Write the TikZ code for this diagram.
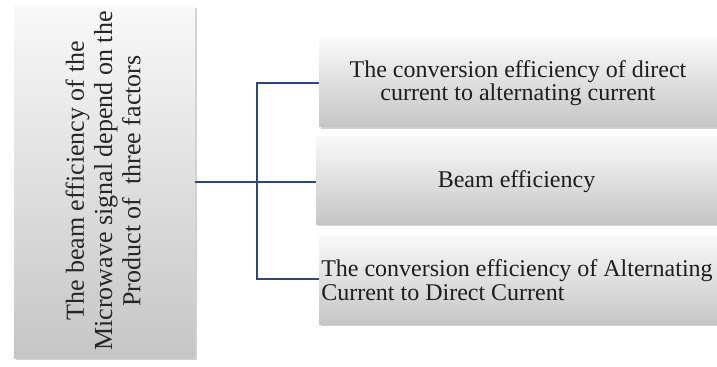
\documentclass[tikz,border=0pt]{standalone}
\usepackage{fontspec}
\setmainfont{Liberation Serif}
\usetikzlibrary{shadows}
\definecolor{linkc}{HTML}{2A4878}
\definecolor{txtc}{HTML}{1E1E1E}
\tikzset{
  gbox/.style={draw=none, top color=gray!5, bottom color=gray!45,
    drop shadow={shadow xshift=1.2pt, shadow yshift=-1.5pt, opacity=0.3, fill=black!60}},
  link/.style={draw=linkc, line width=1.4pt},
  lbl/.style={font=\fontsize{18}{17.5}\selectfont, text=txtc, align=center}
}
\begin{document}
\begin{tikzpicture}[x=0.75pt,y=-0.75pt]
\useasboundingbox (0,0) rectangle (717,367);
% left box
\path[gbox] (14,6) rectangle (195,358);
\node[lbl, rotate=90, font=\fontsize{19.5}{21.2}\selectfont, text=black!85] (main) at (103,181)
  {The beam efficiency of the\\Microwave signal depend on the\\Product of\ \ three factors};
\coordinate (mr) at (195,182);
% right boxes
\path[gbox] (319,39) rectangle (717,127);
\path[gbox] (316,137) rectangle (717,224);
\path[gbox] (319,236) rectangle (717,324);
\node[lbl] (b1) at (518,83) {The conversion efficiency of direct\\current to alternating current};
\node[lbl] (b2) at (516.5,182) {Beam efficiency};
\node[lbl, align=left, anchor=west, inner sep=0pt] (b3) at (321,280) {The conversion efficiency of Alternating\\Current to Direct Current};
\coordinate (l1) at (319,83);
\coordinate (l2) at (316,182);
\coordinate (l3) at (319,279);
\coordinate (j) at (257,182);
\coordinate (j1) at (257,83);
\coordinate (j3) at (257,279);
\draw[link] (mr) -- (j);
\draw[link] (l1) -- (j1) -- (j3) -- (l3);
\draw[link] (j) -- (l2);
\end{tikzpicture}
\end{document}
